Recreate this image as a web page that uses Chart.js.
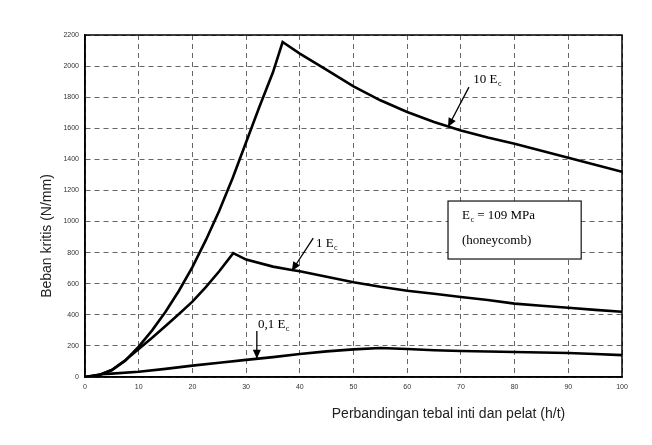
<!DOCTYPE html>
<html>
<head>
<meta charset="utf-8">
<script src="https://cdn.jsdelivr.net/npm/chart.js@4/dist/chart.umd.min.js"></script>
<style>
html,body{margin:0;padding:0;background:#fff;}
#wrap{width:652px;height:445px;position:relative;}
</style>
</head>
<body>
<div id="wrap"><canvas id="c" width="652" height="445"></canvas></div>
<script>
// ---- data ----
const xTicks = [0,10,20,30,40,50,60,70,80,90,100];
const yTicks = [0,200,400,600,800,1000,1200,1400,1600,1800,2000,2200];

const x10E = [0,2.5,5,7.5,10,12.5,15,17.5,20,22.5,25,27.5,30,32.5,35,36.8,40,45,50,55,60,65,70,75,80,85,90,95,100];
const y10E = [0,12,45,105,195,300,420,555,707,880,1070,1280,1510,1740,1960,2155,2080,1975,1870,1780,1705,1640,1585,1540,1500,1455,1410,1365,1320];

const x1E = [0,2.5,5,7.5,10,12.5,15,17.5,20,22.5,25,27.6,30,35,38.5,40,45,50,55,60,65,70,75,80,85,90,95,100];
const y1E = [0,10,45,108,180,252,328,405,485,578,680,797,755,710,688,680,645,610,580,555,535,515,495,472,458,445,432,420];

const x01E = [0,3,5,10,15,20,25,30,35,40,45,50,55,60,65,70,75,80,85,90,95,100];
const y01E = [0,18,22,34,52,73,92,110,128,148,165,178,187,180,172,167,164,161,158,154,148,141];

const xTitle = "Perbandingan tebal inti dan pelat (h/t)";
const yTitle = "Beban kritis (N/mm)";

// annotations (label text, label anchor, arrow from -> to, in data units)
const notes = [
  {main:"10 E", sub:"c", lx:72.3, ly:1891, ax1:71.5, ay1:1865, ax2:67.6, ay2:1608},
  {main:"1 E",  sub:"c", lx:43.0, ly:836,  ax1:42.5, ay1:894,  ax2:38.5, ay2:682},
  {main:"0,1 E",sub:"c", lx:32.2, ly:315,  ax1:32.0, ay1:296,  ax2:32.0, ay2:118}
];
const boxNote = {x1:67.6, y1:1132, x2:92.4, y2:759,
  line1:{main:"E", sub:"c", rest:" = 109 MPa", x:70.2, y:1016},
  line2:{text:"(honeycomb)", x:70.2, y:855}};

function pts(xs, ys){ return xs.map((x,i)=>({x:x, y:ys[i]})); }

const lineStyle = {borderColor:'#000', borderWidth:2.6, pointRadius:0, tension:0, fill:false};

function drawSubText(ctx, main, sub, x, y, size){
  ctx.font = size + "px 'Liberation Serif'";
  ctx.fillText(main, x, y);
  const w = ctx.measureText(main).width;
  ctx.font = Math.round(size*0.65) + "px 'Liberation Serif'";
  ctx.fillText(sub, x + w + 0.5, y + 3);
  return x + w + 0.5 + ctx.measureText(sub).width;
}

function arrow(ctx, x1, y1, x2, y2){
  ctx.beginPath();
  ctx.moveTo(x1,y1); ctx.lineTo(x2,y2);
  ctx.lineWidth = 1.3; ctx.strokeStyle = '#000'; ctx.stroke();
  const a = Math.atan2(y2-y1, x2-x1), L = 9, W = 4;
  ctx.beginPath();
  ctx.moveTo(x2,y2);
  ctx.lineTo(x2 - L*Math.cos(a) + W*Math.sin(a), y2 - L*Math.sin(a) - W*Math.cos(a));
  ctx.lineTo(x2 - L*Math.cos(a) - W*Math.sin(a), y2 - L*Math.sin(a) + W*Math.cos(a));
  ctx.closePath(); ctx.fillStyle = '#000'; ctx.fill();
}

const decor = {
  id:'decor',
  afterDraw(chart){
    const {ctx, chartArea:a, scales:{x, y}} = chart;
    ctx.save();
    // frame
    ctx.strokeStyle = '#000'; ctx.lineWidth = 1.5;
    ctx.strokeRect(a.left, a.top, a.right - a.left, a.bottom - a.top);
    ctx.fillStyle = '#000';
    ctx.textBaseline = 'alphabetic';
    ctx.textAlign = 'left';
    notes.forEach(n=>{
      arrow(ctx, x.getPixelForValue(n.ax1), y.getPixelForValue(n.ay1), x.getPixelForValue(n.ax2), y.getPixelForValue(n.ay2));
      ctx.fillStyle = '#000';
      drawSubText(ctx, n.main, n.sub, x.getPixelForValue(n.lx), y.getPixelForValue(n.ly), 13);
    });
    // box
    const bx1 = x.getPixelForValue(boxNote.x1), by1 = y.getPixelForValue(boxNote.y1);
    const bx2 = x.getPixelForValue(boxNote.x2), by2 = y.getPixelForValue(boxNote.y2);
    ctx.fillStyle = '#fff';
    ctx.fillRect(bx1, by1, bx2-bx1, by2-by1);
    ctx.strokeStyle = '#111'; ctx.lineWidth = 1.2;
    ctx.strokeRect(bx1, by1, bx2-bx1, by2-by1);
    ctx.fillStyle = '#000';
    const l1 = boxNote.line1;
    const ex = drawSubText(ctx, l1.main, l1.sub, x.getPixelForValue(l1.x), y.getPixelForValue(l1.y), 13);
    ctx.font = "13px 'Liberation Serif'";
    ctx.fillText(l1.rest, ex, y.getPixelForValue(l1.y));
    ctx.fillText(boxNote.line2.text, x.getPixelForValue(boxNote.line2.x), y.getPixelForValue(boxNote.line2.y));
    // axis titles
    ctx.font = "14px 'Liberation Sans'";
    ctx.fillStyle = '#222';
    ctx.textAlign = 'center'; ctx.textBaseline = 'middle';
    ctx.fillText(xTitle, (a.left + a.right)/2 + 95, a.bottom + 37);
    ctx.save();
    ctx.translate(47, (a.top + a.bottom)/2 + 30);
    ctx.rotate(-Math.PI/2);
    ctx.fillText(yTitle, 0, 0);
    ctx.restore();
    ctx.restore();
  }
};

new Chart(document.getElementById('c'), {
  type:'line',
  data:{datasets:[
    Object.assign({label:'10 Ec', data:pts(x10E, y10E)}, lineStyle),
    Object.assign({label:'1 Ec', data:pts(x1E, y1E)}, lineStyle),
    Object.assign({label:'0,1 Ec', data:pts(x01E, y01E)}, lineStyle)
  ]},
  options:{
    responsive:false, animation:false,
    layout:{padding:{left:0, top:35, right:30, bottom:0}},
    plugins:{legend:{display:false}, tooltip:{enabled:false}},
    scales:{
      x:{type:'linear', min:0, max:100,
        afterBuildTicks(s){ s.ticks = xTicks.map(v=>({value:v})); },
        afterFit(s){ s.height = 68; },
        ticks:{font:{size:7, family:'Liberation Sans'}, color:'#333', padding:6, maxRotation:0, callback:(v)=>String(v)},
        grid:{color:'#666', lineWidth:1, drawTicks:false},
        border:{color:'#000', width:1.5, dash:[5,4]}
      },
      y:{min:0, max:2200,
        afterBuildTicks(s){ s.ticks = yTicks.map(v=>({value:v})); },
        afterFit(s){ s.width = 85; },
        ticks:{font:{size:7, family:'Liberation Sans'}, color:'#333', padding:6, callback:(v)=>String(v)},
        grid:{color:'#666', lineWidth:1, drawTicks:false},
        border:{color:'#000', width:1.5, dash:[5,4]}
      }
    }
  },
  plugins:[decor]
});
</script>
</body>
</html>
